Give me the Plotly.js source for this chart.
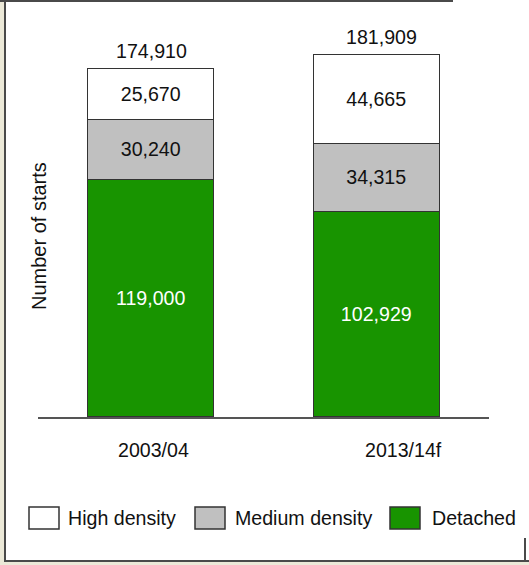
<!DOCTYPE html>
<html>
<head>
<meta charset="utf-8">
<script src="https://cdn.plot.ly/plotly-3.0.1.min.js"></script>
<style>
  html, body { margin: 0; padding: 0; background: #ece9d8; width: 529px; height: 565px; overflow: hidden; }
  #frame { position: absolute; left: 4px; top: 0; width: 523px; height: 560px; background: #ffffff;
           border-left: 2px solid #4a4a4a; border-bottom: 2px solid #4a4a4a; }
  #topline { position: absolute; left: 0; top: 0; width: 453px; height: 2px; background: #4a4a4a; }
  #rightline { position: absolute; left: 524px; top: 538px; width: 2px; height: 24px; background: #4a4a4a; }
  #chart { position: absolute; left: 0; top: 0; width: 529px; height: 565px; }
</style>
</head>
<body>
<div id="frame"></div>
<div id="topline"></div>
<div id="rightline"></div>
<div id="chart"></div>
<script>
// ---- data ----
var categories = ["2003/04", "2013/14f"];
var seriesNames = ["Detached", "Medium density", "High density"];
var detached = [119000, 102929];
var mediumDensity = [30240, 34315];
var highDensity = [25670, 44665];
var legendOrder = ["High density", "Medium density", "Detached"];

// ---- style ----
var FONT = "Liberation Sans, Arial, sans-serif";
var FS = 19.6;
var colors = {"Detached": "#189400", "Medium density": "#c0c0c0", "High density": "#ffffff"};
var textColors = {"Detached": "#ffffff", "Medium density": "#111111", "High density": "#111111"};
var L = 38, R = 40, T = 38, B = 148;
var W = 529, H = 565;
var baseY = H - B; // pixel y of zero line

var seriesValues = [detached, mediumDensity, highDensity];
var traces = seriesNames.map(function (name, i) {
  return {
    type: "bar",
    name: name,
    x: categories,
    y: seriesValues[i],
    marker: {color: colors[name], line: {color: "#333333", width: 1.2}},
    text: seriesValues[i].map(function (v) { return v.toLocaleString("en-US"); }),
    textposition: "inside",
    insidetextanchor: "middle",
    textangle: 0,
    constraintext: "none",
    textfont: {family: FONT, size: FS, color: textColors[name]},
    hoverinfo: "skip",
    showlegend: false
  };
});

var totals = categories.map(function (c, j) {
  return seriesValues.reduce(function (s, arr) { return s + arr[j]; }, 0);
});

var annotations = [];
// totals above bars
totals.forEach(function (t, j) {
  annotations.push({
    xref: "x", yref: "y", x: categories[j], y: t,
    text: t.toLocaleString("en-US"), showarrow: false,
    yanchor: "middle", yshift: 17, xshift: [1, 5][j],
    font: {family: FONT, size: FS, color: "#111111"}
  });
});
// category labels
var labelShift = [3, 27];
categories.forEach(function (c, j) {
  annotations.push({
    xref: "x", yref: "paper", x: c, y: 0,
    text: c, showarrow: false, yanchor: "middle", yshift: -33, xshift: labelShift[j],
    font: {family: FONT, size: FS, color: "#111111"}
  });
});
// y axis title
annotations.push({
  xref: "paper", yref: "paper", x: 0, y: 0, xanchor: "center", yanchor: "middle",
  xshift: 39 - L, yshift: baseY - 236,
  text: "Number of starts", textangle: -90, showarrow: false,
  font: {family: FONT, size: 20, color: "#111111"}
});

// manual legend
var shapes = [];
var legendBoxX = [29, 195, 390];
var legendTextX = [68, 235, 432];
var legendY = 518;
legendOrder.forEach(function (name, k) {
  shapes.push({
    type: "rect", xref: "paper", yref: "paper",
    xsizemode: "pixel", ysizemode: "pixel", xanchor: 0, yanchor: 0,
    x0: legendBoxX[k] - L, x1: legendBoxX[k] + 30 - L,
    y0: baseY - (legendY - 11), y1: baseY - (legendY + 11),
    fillcolor: colors[name], line: {color: "#333333", width: 1.5}
  });
  annotations.push({
    xref: "paper", yref: "paper", x: 0, y: 0, xanchor: "left", yanchor: "middle",
    xshift: legendTextX[k] - L - 2, yshift: baseY - legendY,
    text: name, showarrow: false,
    font: {family: FONT, size: FS, color: "#111111"}
  });
});

var layout = {
  width: W, height: H,
  margin: {l: L, r: R, t: T, b: B, pad: 0},
  paper_bgcolor: "rgba(0,0,0,0)",
  plot_bgcolor: "rgba(0,0,0,0)",
  barmode: "stack",
  bargap: 0.441,
  showlegend: false,
  xaxis: {type: "category", showticklabels: false, ticks: "", showline: true,
          linecolor: "#555555", linewidth: 2, showgrid: false, zeroline: false, fixedrange: true},
  yaxis: {range: [0, 190000], visible: false, showgrid: false, zeroline: false, fixedrange: true},
  annotations: annotations,
  shapes: shapes,
  font: {family: FONT, size: FS, color: "#111111"}
};

Plotly.newPlot("chart", traces, layout, {displayModeBar: false, staticPlot: true});
</script>
</body>
</html>
